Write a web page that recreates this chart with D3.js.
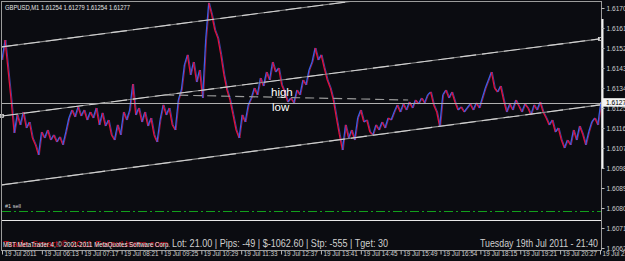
<!DOCTYPE html>
<html>
<head>
<meta charset="utf-8">
<script src="https://cdn.jsdelivr.net/npm/d3@7"></script>
<style>
  html, body { margin: 0; padding: 0; background: #0b0c11; }
  svg { display: block; }
  text { font-family: "Liberation Sans", Arial, sans-serif; }
</style>
</head>
<body>
<div id="chart"></div>
<script>
// GBPUSD M1, 19 Jul 2011 - closes sampled along the chart (about 5 bars each)
var closes = [
  1.61469, 1.61559, 1.61424, 1.61289, 1.61141, 1.61222, 1.61177, 1.61235, 1.61163, 1.61190,
  1.61118, 1.61087, 1.61042, 1.61145, 1.61118, 1.61154, 1.61109, 1.61132, 1.61100, 1.61123,
  1.61087, 1.61145, 1.61208, 1.61244, 1.61213, 1.61258, 1.61217, 1.61244, 1.61199, 1.61235,
  1.61208, 1.61253, 1.61177, 1.61231, 1.61172, 1.61199, 1.61132, 1.61109, 1.61177, 1.61132,
  1.61235, 1.61199, 1.61244, 1.61361, 1.61222, 1.61253, 1.61190, 1.61235, 1.61172, 1.61208,
  1.61132, 1.61100, 1.61199, 1.61267, 1.61222, 1.61253, 1.61177, 1.61154, 1.61289, 1.61334,
  1.61447, 1.61492, 1.61402, 1.61460, 1.61370, 1.61424, 1.61298, 1.61559, 1.61726, 1.61672,
  1.61604, 1.61568, 1.61492, 1.61402, 1.61334, 1.61289, 1.61222, 1.61154, 1.61118, 1.61222,
  1.61190, 1.61267, 1.61298, 1.61343, 1.61312, 1.61388, 1.61352, 1.61415, 1.61379, 1.61460,
  1.61415, 1.61433, 1.61357, 1.61325, 1.61280, 1.61298, 1.61276, 1.61334, 1.61312, 1.61379,
  1.61357, 1.61424, 1.61460, 1.61523, 1.61469, 1.61492, 1.61433, 1.61379, 1.61343, 1.61289,
  1.61208, 1.61132, 1.61064, 1.61177, 1.61118, 1.61154, 1.61109, 1.61208, 1.61244, 1.61190,
  1.61199, 1.61145, 1.61132, 1.61177, 1.61154, 1.61190, 1.61163, 1.61208, 1.61199, 1.61235,
  1.61267, 1.61235, 1.61271, 1.61244, 1.61280, 1.61253, 1.61289, 1.61271, 1.61298, 1.61276,
  1.61312, 1.61325, 1.61267, 1.61235, 1.61168, 1.61312, 1.61334, 1.61298, 1.61325, 1.61280,
  1.61244, 1.61258, 1.61235, 1.61253, 1.61271, 1.61244, 1.61276, 1.61253, 1.61298, 1.61343,
  1.61379, 1.61415, 1.61343, 1.61325, 1.61352, 1.61289, 1.61235, 1.61271, 1.61244, 1.61289,
  1.61262, 1.61235, 1.61271, 1.61253, 1.61222, 1.61267, 1.61244, 1.61280, 1.61235, 1.61208,
  1.61177, 1.61199, 1.61145, 1.61163, 1.61109, 1.61073, 1.61109, 1.61087, 1.61154, 1.61109,
  1.61172, 1.61136, 1.61087, 1.61145, 1.61190, 1.61208, 1.61177, 1.61280
];
var barsPerSample = 4.88;

// right price scale
var priceTicks = [1.61703, 1.61613, 1.61523, 1.61433, 1.61343, 1.61253, 1.61163,
  1.61073, 1.60983, 1.60893, 1.60803, 1.60713, 1.60623];

// bottom time scale, one label every 64 bars
var timeLabels = ["19 Jul 2011", "19 Jul 06:13", "19 Jul 07:17", "19 Jul 08:21",
  "19 Jul 09:25", "19 Jul 10:29", "19 Jul 11:33", "19 Jul 12:37", "19 Jul 13:41",
  "19 Jul 14:45", "19 Jul 15:49", "19 Jul 16:54", "19 Jul 18:15", "19 Jul 19:21",
  "19 Jul 20:27", "19 Jul 21:31"];
var barsPerLabel = 64;

// objects on the chart: [bar, price] end points
var channelTop = [[0, 1.61528], [960, 1.61879]];
var channelMid = [[0, 1.61217], [960, 1.61564]];
var channelLow = [[0, 1.60907], [960, 1.61267]];
var highLowLine = [[262, 1.61312], [652, 1.61289]];
var bidPrice = 1.61277;
var sellPrice = 1.60790;
var levelLine = 1.60749;

var headerText = "GBPUSD,M1  1.61254 1.61279 1.61254 1.61277";
var statusText = "Lot: 21.00 | Pips: -49 | $-1062.60 | Stp: -555 | Tget: 30";
var dateText = "Tuesday 19th Jul 2011 - 21:40";
var copyText = "MBT MetaTrader 4, \u00a9 2001-2011 MetaQuotes Software Corp.";

var width = 625, height = 261;
var plot = { left: 2, right: 602, top: 2, bottom: 251 };

var x = d3.scaleLinear().domain([0, 960]).range([plot.left, plot.right - 2]);
var y = d3.scaleLinear().domain([1.61739, 1.60623]).range([0, 248]);

var svg = d3.select("#chart").append("svg")
  .attr("width", width)
  .attr("height", height);

svg.append("rect").attr("width", width).attr("height", height).attr("fill", "#0b0c11");

svg.append("clipPath").attr("id", "plotclip")
  .append("rect")
  .attr("x", plot.left).attr("y", plot.top)
  .attr("width", plot.right - plot.left).attr("height", plot.bottom - plot.top);

var g = svg.append("g").attr("clip-path", "url(#plotclip)");

// horizontal levels
svg.append("rect")
  .attr("x", plot.left).attr("width", plot.right - plot.left)
  .attr("y", Math.round(y(levelLine))).attr("height", 1)
  .attr("fill", "#e8e8e8");

svg.append("line")
  .attr("x1", plot.left).attr("x2", plot.right)
  .attr("y1", Math.round(y(sellPrice)) + 0.5).attr("y2", Math.round(y(sellPrice)) + 0.5)
  .attr("stroke", "#12a01c").attr("stroke-width", 1)
  .attr("stroke-dasharray", "9,3,2,3");

svg.append("rect")
  .attr("x", plot.left).attr("width", plot.right - plot.left)
  .attr("y", Math.round(y(bidPrice))).attr("height", 1)
  .attr("fill", "#b0b0b0");

// price line, red when falling, blue when rising; the other colour
// is laid a little to the side so the strands mix like the bar chart
var pts = closes.map(function (c, i) {
  return [x(i * barsPerSample), y(c)];
});
for (var i = 1; i < pts.length; i++) {
  var up = closes[i] >= closes[i - 1];
  g.append("line")
    .attr("x1", pts[i - 1][0] + 0.9).attr("y1", pts[i - 1][1])
    .attr("x2", pts[i][0] + 0.9).attr("y2", pts[i][1])
    .attr("stroke", up ? "#e3123f" : "#3d5fe6")
    .attr("stroke-width", 1)
    .attr("stroke-opacity", 0.7);
  g.append("line")
    .attr("x1", pts[i - 1][0]).attr("y1", pts[i - 1][1])
    .attr("x2", pts[i][0]).attr("y2", pts[i][1])
    .attr("stroke", up ? "#3d5fe6" : "#e3123f")
    .attr("stroke-width", 1.3);
}

// regression channel
function drawTrend(pair, col) {
  g.append("line")
    .attr("x1", x(pair[0][0])).attr("y1", y(pair[0][1]))
    .attr("x2", x(pair[1][0])).attr("y2", y(pair[1][1]))
    .attr("stroke", "#8c8c8c").attr("stroke-width", 1.1);
  g.append("line")
    .attr("x1", x(pair[0][0])).attr("y1", y(pair[0][1]))
    .attr("x2", x(pair[1][0])).attr("y2", y(pair[1][1]))
    .attr("stroke", col).attr("stroke-width", 1.1)
    .attr("stroke-dasharray", "16,6");
}
drawTrend(channelTop, "#d0d0d0");
drawTrend(channelMid, "#d0d0d0");
drawTrend(channelLow, "#d0d0d0");

// dashed high/low line
g.append("line")
  .attr("x1", x(highLowLine[0][0])).attr("y1", y(highLowLine[0][1]))
  .attr("x2", x(highLowLine[1][0])).attr("y2", y(highLowLine[1][1]))
  .attr("stroke", "#9a9a9a").attr("stroke-width", 1.2)
  .attr("stroke-dasharray", "9,5");

// end markers of the middle line
[channelMid[0], [960, channelMid[1][1]]].forEach(function (p) {
  svg.append("rect")
    .attr("x", x(p[0]) - 1.5).attr("y", y(p[1]) - 1.5)
    .attr("width", 3).attr("height", 3)
    .attr("fill", "none").attr("stroke", "#e0e0e0").attr("stroke-width", 0.8);
});

// frame
svg.append("rect")
  .attr("x", plot.left - 0.5).attr("y", plot.top - 0.5)
  .attr("width", plot.right - plot.left).attr("height", plot.bottom - plot.top)
  .attr("fill", "none").attr("stroke", "#9c9c9c").attr("stroke-width", 1);

// white strip on the price scale
svg.append("rect")
  .attr("x", plot.right - 0.5).attr("y", 19)
  .attr("width", 2).attr("height", 150)
  .attr("fill", "#f2f2f2");

// price axis
var yAxis = d3.axisRight(y).tickValues(priceTicks).tickSize(3).tickPadding(2)
  .tickFormat(d3.format(".5f"));
var ya = svg.append("g")
  .attr("transform", "translate(" + (plot.right - 0.5) + ",0)")
  .call(yAxis);
ya.select(".domain").remove();
ya.selectAll("line").attr("stroke", "#bdbdbd");
ya.selectAll("text").attr("fill", "#cfcfcf")
  .style("font-size", "6.6px");

// bid label
var bidY = y(bidPrice);
svg.append("rect")
  .attr("x", plot.right + 1).attr("y", bidY - 4.5)
  .attr("width", 30).attr("height", 8.5)
  .attr("fill", "#f4f4f4");
svg.append("text")
  .attr("x", plot.right + 4).attr("y", bidY + 2.5)
  .attr("fill", "#000").style("font-size", "6.6px")
  .text(d3.format(".5f")(bidPrice));

// time axis
var tickBars = timeLabels.map(function (d, i) { return i * barsPerLabel; });
var xAxis = d3.axisBottom(x).tickValues(tickBars).tickSize(4).tickPadding(0)
  .tickFormat(function (d, i) { return timeLabels[i]; });
var xa = svg.append("g")
  .attr("transform", "translate(0," + (plot.bottom - 0.5) + ")")
  .call(xAxis);
xa.select(".domain").remove();
xa.selectAll("line").attr("stroke", "#bdbdbd");
xa.selectAll("text")
  .attr("fill", "#cfcfcf")
  .attr("text-anchor", "start")
  .attr("dx", 2).attr("dy", 1)
  .style("font-size", "6.3px");

// texts
svg.append("text").attr("x", 5).attr("y", 10)
  .attr("fill", "#e6e6e6").style("font-size", "6.8px")
  .attr("textLength", 125).attr("lengthAdjust", "spacingAndGlyphs")
  .text(headerText);

svg.append("text").attr("x", 271).attr("y", 96)
  .attr("fill", "#ffffff").style("font-size", "11.5px")
  .text("high");
svg.append("text").attr("x", 272).attr("y", 111)
  .attr("fill", "#ffffff").style("font-size", "11.5px")
  .text("low");

svg.append("text").attr("x", 5).attr("y", y(sellPrice) - 3)
  .attr("fill", "#d8d8d8").style("font-size", "5.5px")
  .text("#1 sell");

svg.append("text").attr("x", 3).attr("y", 247)
  .attr("fill", "#c80e1e").style("font-size", "8.5px")
  .attr("textLength", 165).attr("lengthAdjust", "spacingAndGlyphs")
  .text("Trade Smart \u00a9 2011 ForexUsers.com");
svg.append("text").attr("x", 3).attr("y", 247)
  .attr("fill", "#e8e8e8").style("font-size", "6.3px")
  .attr("textLength", 167).attr("lengthAdjust", "spacingAndGlyphs")
  .text(copyText);

svg.append("text").attr("x", 172).attr("y", 247)
  .attr("fill", "#cfcfcf").style("font-size", "10.5px")
  .attr("textLength", 216).attr("lengthAdjust", "spacingAndGlyphs")
  .text(statusText);

svg.append("text").attr("x", 598).attr("y", 247)
  .attr("fill", "#cfcfcf").style("font-size", "10.5px")
  .attr("text-anchor", "end")
  .attr("textLength", 118).attr("lengthAdjust", "spacingAndGlyphs")
  .text(dateText);
</script>
</body>
</html>
